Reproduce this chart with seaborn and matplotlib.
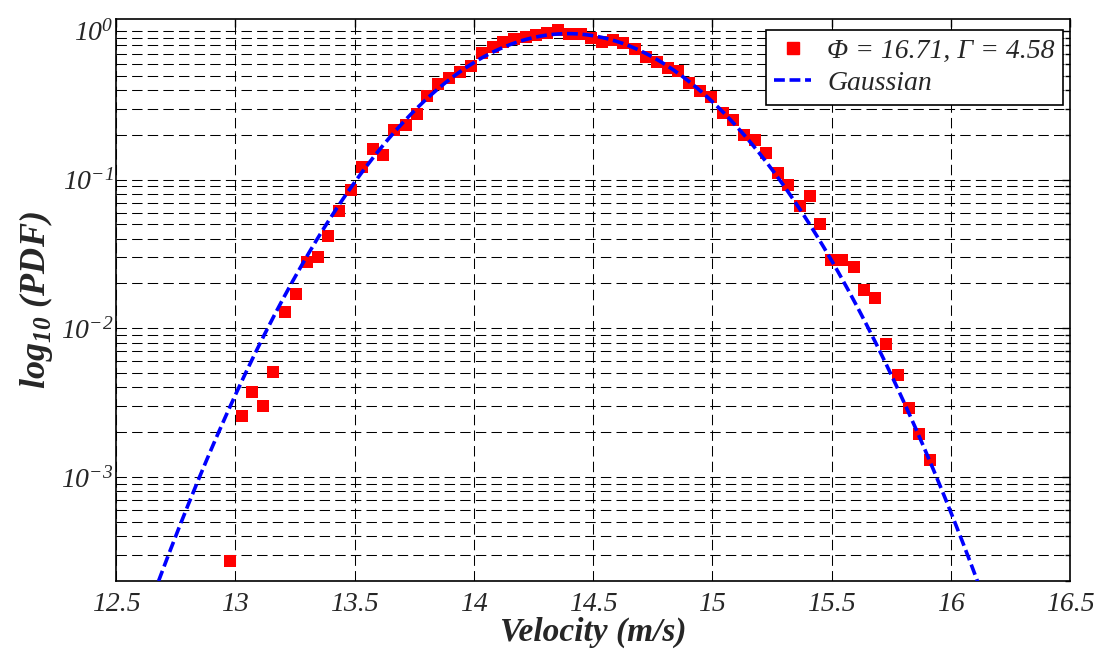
import numpy as np
import pandas as pd
import seaborn as sb
import matplotlib.pyplot as plt
from matplotlib.ticker import LogLocator, FixedLocator, NullFormatter
from matplotlib.lines import Line2D

velocity = [12.978, 13.027, 13.072, 13.118, 13.160, 13.209, 13.255, 13.300, 13.346, 13.390,
            13.436, 13.485, 13.530, 13.576, 13.621, 13.666, 13.715, 13.761, 13.805, 13.852,
            13.898, 13.943, 13.989, 14.035, 14.080, 14.124, 14.170, 14.218, 14.261, 14.307,
            14.355, 14.401, 14.448, 14.493, 14.538, 14.583, 14.627, 14.677, 14.721, 14.767,
            14.813, 14.858, 14.904, 14.948, 14.994, 15.044, 15.088, 15.134, 15.179, 15.225,
            15.274, 15.319, 15.368, 15.410, 15.452, 15.497, 15.545, 15.594, 15.638, 15.684,
            15.729, 15.778, 15.826, 15.868, 15.913]
pdf = [2.74e-4, 2.58e-3, 3.74e-3, 2.99e-3, 5.12e-3, 1.29e-2, 1.69e-2, 2.81e-2, 3.02e-2, 4.18e-2,
       6.1e-2, 8.5e-2, 0.122, 0.161, 0.147, 0.214, 0.232, 0.274, 0.365, 0.438,
       0.484, 0.526, 0.580, 0.707, 0.776, 0.838, 0.879, 0.906, 0.935, 0.959,
       1.016, 0.95, 0.95, 0.888, 0.838, 0.870, 0.826, 0.756, 0.671, 0.614,
       0.565, 0.537, 0.443, 0.395, 0.360, 0.278, 0.253, 0.198, 0.183, 0.151,
       0.111, 0.0925, 0.0668, 0.078, 0.0502, 0.0287, 0.0287, 0.0259, 0.0180, 0.0160,
       7.88e-3, 4.86e-3, 2.9e-3, 1.94e-3, 1.31e-3]

# fitted gaussian parameters
gauss_mu = 14.395
gauss_sigma = 0.417

x_ticks = [12.5, 13, 13.5, 14, 14.5, 15, 15.5, 16, 16.5]
x_labels = ['12.5', '13', '13.5', '14', '14.5', '15', '15.5', '16', '16.5']
data_label = 'Φ = 16.71, Γ = 4.58'
fit_label = 'Gaussian'

df = pd.DataFrame({'velocity': velocity, 'pdf': pdf})
xg = np.linspace(12.5, 16.5, 400)
yg = np.exp(-(xg - gauss_mu) ** 2 / (2 * gauss_sigma ** 2)) / (gauss_sigma * np.sqrt(2 * np.pi))

sb.set_style('white')
plt.rcParams['font.family'] = ['Liberation Serif', 'DejaVu Serif']
plt.rcParams['font.style'] = 'italic'
plt.rcParams['axes.unicode_minus'] = False

fig = plt.figure(figsize=(11.02, 6.53), dpi=100)
ax = fig.add_axes([0.1053, 0.1103, 0.8657, 0.8606])

sb.scatterplot(data=df, x='velocity', y='pdf', marker='s', s=80, color=(1, 0, 0),
               linewidth=0, ax=ax, legend=False, zorder=3)
sb.lineplot(x=xg, y=yg, color=(0, 0, 1), linewidth=2.6, linestyle=(0, (3, 1.3)),
            ax=ax, legend=False, zorder=4)

ax.set_yscale('log')
ax.set_xlim(12.5, 16.5)
ax.set_ylim(2e-4, 1.2)
ax.xaxis.set_major_locator(FixedLocator(x_ticks))
ax.set_xticklabels(x_labels)
ax.yaxis.set_major_locator(LogLocator(base=10, numticks=10))
ax.yaxis.set_minor_locator(LogLocator(base=10, subs=np.arange(2, 10), numticks=20))
ax.yaxis.set_minor_formatter(NullFormatter())

# dashed grid
grid_kw = dict(color='black', linewidth=0.75, linestyle=(0, (10, 5)))
ax.grid(True, which='major', axis='x', **grid_kw)
ax.grid(True, which='both', axis='y', **grid_kw)
ax.set_axisbelow(True)

ax.tick_params(axis='both', which='both', direction='in', top=True, right=True,
               color='black', width=1)
ax.tick_params(axis='both', which='major', length=6, labelsize=20)
ax.tick_params(axis='y', which='minor', length=3.5)
ax.tick_params(axis='x', which='major', pad=8)
ax.tick_params(axis='y', which='major', pad=2)
for sp in ax.spines.values():
    sp.set_color('black')
    sp.set_linewidth(1.2)

ax.set_xlabel('Velocity (m/s)', fontsize=24, fontweight='bold', labelpad=0)
ax.set_ylabel(r'log$_{\mathdefault{10}}$ (PDF)', fontsize=26, fontweight='bold', labelpad=4)

handles = [Line2D([], [], marker='s', color=(1, 0, 0), linestyle='none', markersize=9),
           Line2D([], [], color=(0, 0, 1), linewidth=2.6, linestyle=(0, (3, 1.3)))]
leg = ax.legend(handles, [data_label, fit_label], loc='upper right',
                bbox_to_anchor=(0.9927, 0.9804), borderaxespad=0, fancybox=False,
                framealpha=1, edgecolor='black', prop=dict(size=20, style='italic'),
                handlelength=1.3, handletextpad=0.6, borderpad=0.3, labelspacing=0.25)
leg.get_frame().set_linewidth(1.2)

plt.savefig('out.png', dpi=100)
